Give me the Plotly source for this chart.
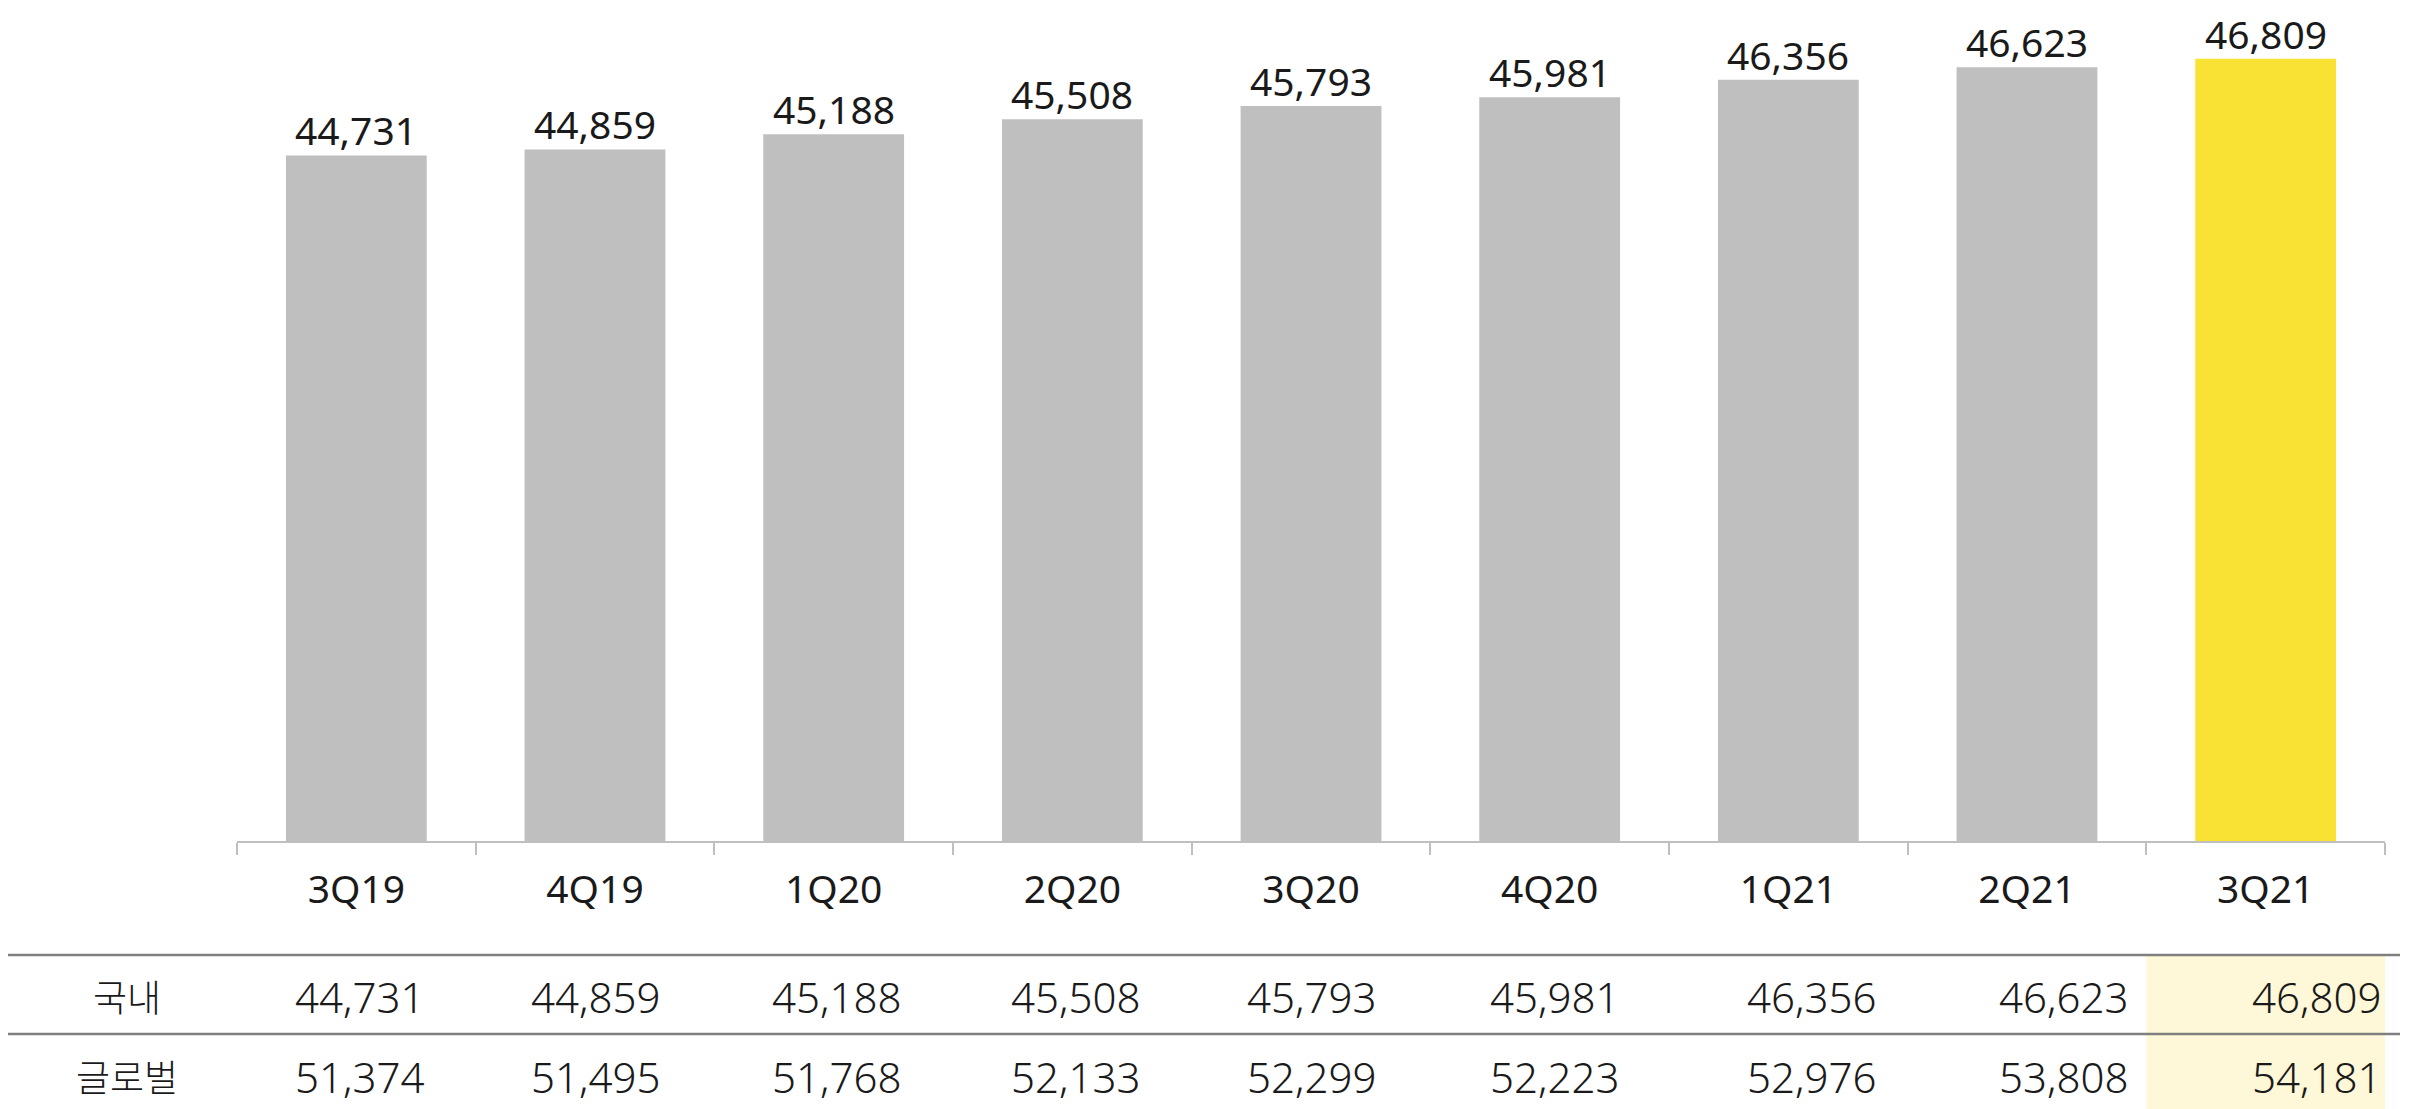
import plotly.graph_objects as go

# ---------------------------------------------------------------------------
# data
# ---------------------------------------------------------------------------
quarters = ["3Q19", "4Q19", "1Q20", "2Q20", "3Q20", "4Q20", "1Q21", "2Q21", "3Q21"]
domestic = [44731, 44859, 45188, 45508, 45793, 45981, 46356, 46623, 46809]
global_ = [51374, 51495, 51768, 52133, 52299, 52223, 52976, 53808, 54181]
row_labels = ["국내", "글로벌"]

# ---------------------------------------------------------------------------
# style
# ---------------------------------------------------------------------------
GRAY = "#BFBFBF"
YELLOW = "#F9E233"
HILITE = "#FEF8D8"
TEXT = "#1A1A1A"
RULE = "#7F7F7F"
FONT = "Noto Sans"

W, H = 2416, 1109
M_L, M_R, M_T, M_B = 237, 31, 0, 268
PLOT_H = H - M_T - M_B


def py(y_px):
    """pixel row (from top of page) -> paper y"""
    return (H - M_B - y_px) / PLOT_H


def px_x(x_px):
    return (x_px - M_L) / (W - M_L - M_R)


# right-edge nudges of the table values inside each column
table_xshift = [-50, -52, -50, -50, -52, -48, -30, -16, -2]

bar_colors = [GRAY] * (len(quarters) - 1) + [YELLOW]

fig = go.Figure()
fig.add_trace(go.Bar(
    x=quarters, y=domestic,
    marker_color=bar_colors, marker_line_width=0,
    width=0.59,
    hoverinfo="x+y", showlegend=False,
))

shapes = []
annotations = []

# value labels on top of the bars
for q, v in zip(quarters, domestic):
    annotations.append(dict(
        xref="x", yref="y", x=q, y=v, text=f"{v:,}", showarrow=False,
        xanchor="center", yanchor="bottom", yshift=-3,
        font=dict(family=FONT, size=39, color=TEXT),
    ))

# highlighted column of the table (latest quarter)
n = len(quarters)
shapes.append(dict(
    type="rect", xref="x", yref="paper",
    x0=n - 1.5, x1=n - 0.5 + 0.065, y0=py(955), y1=py(H),
    fillcolor=HILITE, line_width=0, layer="below",
))

# horizontal rules of the table
for y_px in (955, 1034):
    shapes.append(dict(
        type="line", xref="paper", yref="paper",
        x0=px_x(8), x1=px_x(2400), y0=py(y_px), y1=py(y_px),
        line=dict(color=RULE, width=2.5),
    ))

# row labels + values
for label, vals, y_px in ((row_labels[0], domestic, 996), (row_labels[1], global_, 1076)):
    annotations.append(dict(
        xref="paper", yref="paper", x=px_x(127), y=py(y_px),
        text=label, showarrow=False, xanchor="center", yanchor="middle",
        font=dict(family="Noto Sans CJK KR", size=37, color=TEXT, weight=300),
    ))
    for i, v in enumerate(vals):
        annotations.append(dict(
            xref="x", yref="paper", x=i + 0.5, y=py(y_px),
            text=f"{v:,}", showarrow=False, xanchor="right", yanchor="middle",
            xshift=table_xshift[i],
            font=dict(family=FONT, size=42, color=TEXT, weight=300),
        ))

fig.update_layout(
    width=W, height=H,
    margin=dict(l=M_L, r=M_R, t=M_T, b=M_B, autoexpand=False),
    paper_bgcolor="white", plot_bgcolor="white",
    bargap=0.41,
    shapes=shapes, annotations=annotations,
    xaxis=dict(
        range=[-0.5, n - 0.5], automargin=False,
        showline=True, linecolor=GRAY, linewidth=2,
        ticks="outside", tickson="boundaries", ticklen=12, tickwidth=2, tickcolor=GRAY,
        tickfont=dict(family=FONT, size=39, color=TEXT),
        ticklabelstandoff=13,
        showgrid=False, zeroline=False,
    ),
    yaxis=dict(range=[30000, 48070], visible=False, showgrid=False, zeroline=False,
               automargin=False),
)

fig.write_html("out.html", config={"displayModeBar": False},
               post_script="document.body.style.margin='0';")
